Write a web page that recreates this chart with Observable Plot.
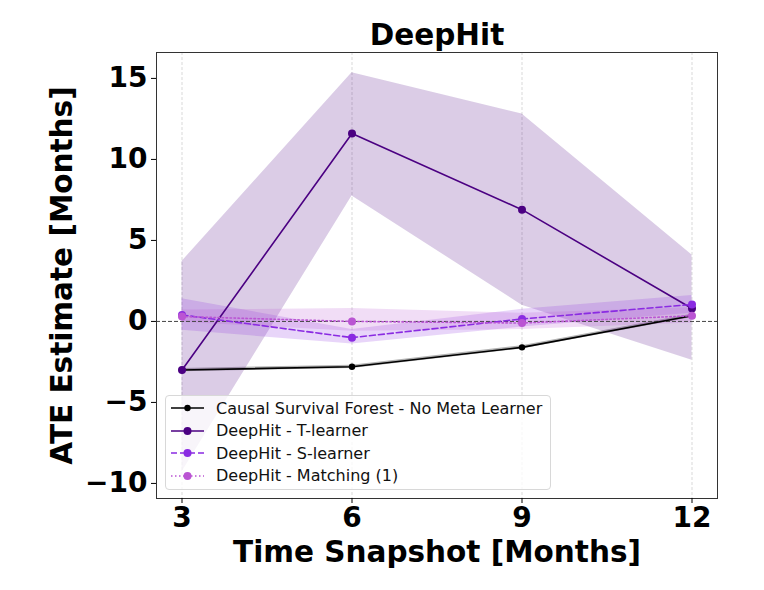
<!DOCTYPE html>
<html>
<head>
<meta charset="utf-8">
<script src="https://cdn.jsdelivr.net/npm/d3@7"></script>
<script src="https://cdn.jsdelivr.net/npm/@observablehq/plot@0.6"></script>
<style>
  body { margin: 0; background: #fff; font-family: "DejaVu Sans", sans-serif; }
  #wrap { position: relative; width: 764px; height: 590px; }
  #legend { position: absolute; left: 165px; top: 395px; width: 386px; height: 95px;
    border: 1px solid #d8d8d8; border-radius: 4px; background: rgba(255,255,255,0.8);
    box-sizing: border-box; padding-top: 1px; }
  .row { height: 22.5px; display: flex; align-items: center; font-size: 16px; color: #111; white-space: nowrap; }
  .row svg { margin-left: 5px; margin-right: 12px; flex: none; }
</style>
</head>
<body>
<div id="wrap"></div>
<script>
const months = [3, 6, 9, 12];
const seriesNames = ["Causal Survival Forest - No Meta Learner", "DeepHit - T-learner", "DeepHit - S-learner", "DeepHit - Matching (1)"];
const seriesColors = ["#000000", "#4b0082", "#8a2be2", "#ba55d3"];
const seriesDash = [null, null, "6,3", "1.5,2.5"];
const csfMean = [-3.0, -2.8, -1.6, 0.35];
const csfLow = [-3.1, -2.9, -1.7, 0.25];
const csfHigh = [-2.9, -2.7, -1.5, 0.45];
const tMean = [-3.0, 11.6, 6.9, 0.8];
const tLow = [-9.3, 7.75, 1.0, -2.4];
const tHigh = [3.7, 15.35, 12.8, 4.1];
const sMean = [0.4, -1.0, 0.15, 1.05];
const sLow = [-0.55, -1.4, -0.35, 0.5];
const sHigh = [1.4, -0.5, 0.75, 1.6];
const mMean = [0.3, 0.0, -0.1, 0.35];
const mLow = [-0.05, -0.6, -0.5, -0.1];
const mHigh = [0.7, 0.8, 0.5, 0.85];
const yTicks = [-10, -5, 0, 5, 10, 15];

const means = [csfMean, tMean, sMean, mMean];
const lows = [csfLow, tLow, sLow, mLow];
const highs = [csfHigh, tHigh, sHigh, mHigh];
const data = [];
seriesNames.forEach((name, i) => {
  months.forEach((m, j) => data.push({series: name, idx: i, month: m, mean: means[i][j], low: lows[i][j], high: highs[i][j]}));
});
const bandOpacity = [0.3, 0.2, 0.2, 0.2];

const marks = [
  Plot.ruleX(months, {stroke: "#cfcfcf", strokeDasharray: "3,2", strokeWidth: 0.8}),
];
seriesNames.forEach((name, i) => {
  const d = data.filter(r => r.idx === i);
  marks.push(Plot.areaY(d, {x: "month", y1: "low", y2: "high", fill: seriesColors[i], fillOpacity: bandOpacity[i]}));
});
marks.push(Plot.ruleY([0], {stroke: "#444", strokeDasharray: "4,2", strokeWidth: 1}));
seriesNames.forEach((name, i) => {
  const d = data.filter(r => r.idx === i);
  marks.push(Plot.line(d, {x: "month", y: "mean", stroke: seriesColors[i], strokeWidth: 1.6, strokeDasharray: seriesDash[i]}));
  marks.push(Plot.dot(d, {x: "month", y: "mean", fill: seriesColors[i], r: i === 0 ? 3.2 : 4}));
});
marks.push(
  Plot.frame({stroke: "#333", strokeWidth: 1}),
  Plot.axisX({ticks: months, tickSize: 5, tickPadding: 4, fontSize: 28, fontWeight: "bold", fill: "#000", label: null}),
  Plot.axisY({ticks: yTicks, tickSize: 5, tickPadding: 4, fontSize: 28, fontWeight: "bold", fill: "#000", label: null,
    tickFormat: d => d < 0 ? "\u2212" + Math.abs(d) : String(d)}),
  Plot.text(["DeepHit"], {frameAnchor: "top", lineAnchor: "middle", dy: -17, fontSize: 29.5, fontWeight: "bold", fill: "#000"}),
  Plot.text(["Time Snapshot [Months]"], {frameAnchor: "bottom", lineAnchor: "middle", dy: 54, fontSize: 29.5, fontWeight: "bold", fill: "#000"}),
  Plot.text(["ATE Estimate [Months]"], {frameAnchor: "left", textAnchor: "middle", lineAnchor: "middle", rotate: -90, dx: -94, fontSize: 29.5, fontWeight: "bold", fill: "#000"})
);

const chart = Plot.plot({
  width: 764,
  height: 590,
  marginLeft: 156,
  marginRight: 47,
  marginTop: 52,
  marginBottom: 92,
  style: {fontFamily: "DejaVu Sans, sans-serif", background: "#fff", overflow: "visible"},
  x: {domain: [2.55, 12.45]},
  y: {domain: [-10.93, 16.6]},
  marks
});
const wrap = document.getElementById("wrap");
wrap.appendChild(chart);

const legend = document.createElement("div");
legend.id = "legend";
seriesNames.forEach((name, i) => {
  const row = document.createElement("div");
  row.className = "row";
  const dash = seriesDash[i] ? `stroke-dasharray="${seriesDash[i]}"` : "";
  row.innerHTML = `<svg width="33" height="12"><line x1="0" x2="33" y1="6" y2="6" stroke="${seriesColors[i]}" stroke-width="1.6" ${dash}></line><circle cx="16.5" cy="6" r="${i === 0 ? 3.2 : 4}" fill="${seriesColors[i]}"></circle></svg><span>${name}</span>`;
  legend.appendChild(row);
});
wrap.appendChild(legend);
</script>
</body>
</html>
